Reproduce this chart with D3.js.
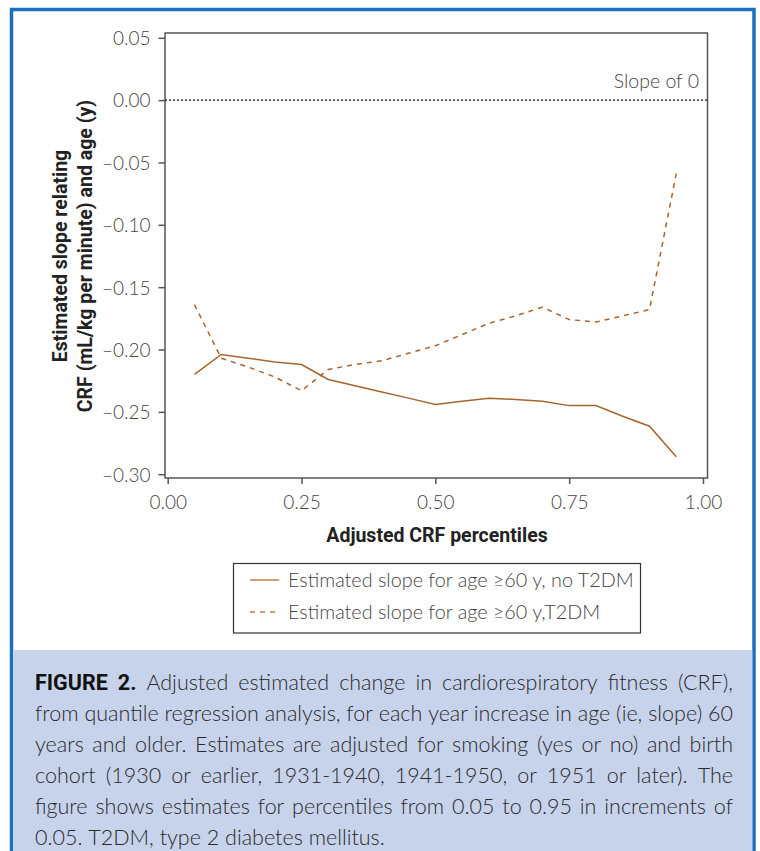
<!DOCTYPE html>
<html>
<head>
<meta charset="utf-8">
<script src="https://cdn.jsdelivr.net/npm/d3@7"></script>
<style>
  html, body { margin: 0; padding: 0; background: #ffffff; }
  svg { display: block; }
</style>
</head>
<body>
<svg id="chart" width="760" height="851"></svg>
<script>
// ---------------- data ----------------
const percentiles = [0.05, 0.10, 0.15, 0.20, 0.25, 0.30, 0.35, 0.40, 0.45, 0.50,
                     0.55, 0.60, 0.65, 0.70, 0.75, 0.80, 0.85, 0.90, 0.95];
const slopeNoT2DM = [-0.220, -0.204, -0.207, -0.210, -0.212, -0.224, -0.229, -0.234, -0.239, -0.244,
                     -0.2415, -0.239, -0.240, -0.2415, -0.245, -0.245, -0.2535, -0.2615, -0.286];
const slopeT2DM   = [-0.164, -0.207, -0.214, -0.222, -0.233, -0.216, -0.212, -0.209, -0.203, -0.197,
                     -0.188, -0.179, -0.173, -0.166, -0.176, -0.178, -0.173, -0.168, -0.059];
const xTicks = [0, 0.25, 0.5, 0.75, 1.0];
const xTickLabels = ["0.00", "0.25", "0.50", "0.75", "1.00"];
const yTicks = [0.05, 0, -0.05, -0.10, -0.15, -0.20, -0.25, -0.30];
const yTickLabels = ["0.05", "0.00", "\u20130.05", "\u20130.10", "\u20130.15", "\u20130.20", "\u20130.25", "\u20130.30"];
const seriesNames = ["Estimated slope for age \u226560 y, no T2DM", "Estimated slope for age \u226560 y,T2DM"];
const xTitle = "Adjusted CRF percentiles";
const yTitleLines = ["Estimated slope relating", "CRF (mL/kg per minute) and age (y)"];
const refLabel = "Slope of 0";
const captionLines = [
  [{t: "FIGURE 2.", b: true}, {t: "Adjusted estimated change in cardiorespiratory fitness (CRF),"}],
  [{t: "from quantile regression analysis, for each year increase in age (ie, slope) 60"}],
  [{t: "years and older. Estimates are adjusted for smoking (yes or no) and birth"}],
  [{t: "cohort (1930 or earlier, 1931-1940, 1941-1950, or 1951 or later). The"}],
  [{t: "figure shows estimates for percentiles from 0.05 to 0.95 in increments of"}],
  [{t: "0.05. T2DM, type 2 diabetes mellitus."}]
];

// ---------------- styles ----------------
const lineColor = "#a6652f";
const axisColor = "#555555";
const lightFont = "Lato, 'Open Sans', sans-serif";
const boldFont = "Roboto, 'Open Sans', sans-serif";

const svg = d3.select("#chart");

// outer frame and caption background
svg.append("rect").attr("x", 11.5).attr("y", 9.5).attr("width", 742.5).attr("height", 860)
  .attr("fill", "#ffffff").attr("stroke", "#1b6fbb").attr("stroke-width", 3.5);
svg.append("rect").attr("x", 13.25).attr("y", 650).attr("width", 739).attr("height", 210)
  .attr("fill", "#c6d3ea");

// scales
const x = d3.scaleLinear().domain([0, 1]).range([167.7, 703]);
const y = d3.scaleLinear().domain([-0.30, 0.05]).range([474.2, 37.8]);
const box = {left: 165, right: 707.5, top: 33, bottom: 478};

// y axis
const yAxis = d3.axisLeft(y).tickValues(yTicks).tickSize(6.5).tickPadding(8)
  .tickFormat((d, i) => yTickLabels[i]);
const gy = svg.append("g").attr("transform", `translate(${box.left},0)`).call(yAxis);
gy.select(".domain").remove();
gy.selectAll(".tick line").attr("stroke", axisColor).attr("stroke-width", 1.5);
gy.selectAll(".tick text").attr("fill", "#444").attr("font-family", lightFont)
  .attr("font-weight", 300).attr("font-size", 19).attr("dy", "0.36em");

// x axis
const xAxis = d3.axisBottom(x).tickValues(xTicks).tickSize(6).tickPadding(12)
  .tickFormat((d, i) => xTickLabels[i]);
const gx = svg.append("g").attr("transform", `translate(0,${box.bottom})`).call(xAxis);
gx.select(".domain").remove();
gx.selectAll(".tick line").attr("stroke", axisColor).attr("stroke-width", 1.5);
gx.selectAll(".tick text").attr("fill", "#444").attr("font-family", lightFont)
  .attr("font-weight", 300).attr("font-size", 19);

// plot frame
svg.append("rect").attr("x", box.left).attr("y", box.top)
  .attr("width", box.right - box.left).attr("height", box.bottom - box.top)
  .attr("fill", "none").attr("stroke", axisColor).attr("stroke-width", 1.5);

// reference line at 0
svg.append("line").attr("x1", box.left).attr("x2", box.right)
  .attr("y1", y(0)).attr("y2", y(0))
  .attr("stroke", "#111").attr("stroke-width", 1.2).attr("stroke-dasharray", "2,2");
svg.append("text").attr("x", 699).attr("y", 88).attr("text-anchor", "end")
  .attr("font-family", lightFont).attr("font-weight", 300).attr("font-size", 19.5)
  .attr("fill", "#444").text(refLabel);

// series lines
const line = d3.line().x(d => x(d[0])).y(d => y(d[1]));
const dataNo = percentiles.map((p, i) => [p, slopeNoT2DM[i]]);
const dataT2 = percentiles.map((p, i) => [p, slopeT2DM[i]]);
svg.append("path").datum(dataNo).attr("d", line).attr("fill", "none")
  .attr("stroke", lineColor).attr("stroke-width", 1.5);
svg.append("path").datum(dataT2).attr("d", line).attr("fill", "none")
  .attr("stroke", lineColor).attr("stroke-width", 1.5).attr("stroke-dasharray", "5,5");

// axis titles
svg.append("text").attr("x", 437).attr("y", 542).attr("text-anchor", "middle")
  .attr("font-family", boldFont).attr("font-weight", 700).attr("font-size", 19.5)
  .attr("fill", "#222").text(xTitle);
yTitleLines.forEach((t, i) => {
  svg.append("text").attr("transform", `translate(${67 + i * 25},256) rotate(-90)`)
    .attr("text-anchor", "middle")
    .attr("font-family", boldFont).attr("font-weight", 700).attr("font-size", 19.5)
    .attr("fill", "#222").text(t);
});

// legend
svg.append("rect").attr("x", 233.5).attr("y", 563.5).attr("width", 407).attr("height", 69.5)
  .attr("fill", "#fff").attr("stroke", "#333").attr("stroke-width", 1.2);
const legendRows = [{name: seriesNames[0], dash: null, yy: 580},
                    {name: seriesNames[1], dash: "5,5", yy: 612}];
legendRows.forEach(r => {
  svg.append("line").attr("x1", 250).attr("x2", 279).attr("y1", r.yy).attr("y2", r.yy)
    .attr("stroke", "#c07e4c").attr("stroke-width", 1.5)
    .attr("stroke-dasharray", r.dash);
  svg.append("text").attr("x", 288).attr("y", r.yy).attr("dy", "0.35em")
    .attr("font-family", lightFont).attr("font-weight", 300).attr("font-size", 19.8)
    .attr("fill", "#444").text(r.name);
});

// caption, justified
const capLeft = 35, capRight = 733, capTop = 690, capStep = 31;
const capSize = 21.5;
const measure = svg.append("text").attr("font-size", capSize).attr("visibility", "hidden");
function wordWidth(w, bold) {
  measure.attr("font-family", bold ? boldFont : lightFont).attr("font-weight", bold ? 700 : 300).text(w);
  return measure.node().getComputedTextLength();
}
captionLines.forEach((segs, li) => {
  const words = [];
  segs.forEach(s => s.t.split(" ").forEach(w => words.push({w, b: !!s.b})));
  words.forEach(o => o.width = wordWidth(o.w, o.b));
  const total = d3.sum(words, o => o.width);
  const last = li === captionLines.length - 1;
  const gap = last ? wordWidth("a a", false) - 2 * wordWidth("a", false)
                   : (capRight - capLeft - total) / (words.length - 1);
  let cx = capLeft;
  words.forEach(o => {
    svg.append("text").attr("x", cx).attr("y", capTop + li * capStep)
      .attr("font-family", o.b ? boldFont : lightFont).attr("font-weight", o.b ? 700 : 300)
      .attr("font-size", capSize).attr("fill", o.b ? "#111" : "#2a2a2a").text(o.w);
    cx += o.width + gap;
  });
});
measure.remove();
</script>
</body>
</html>
